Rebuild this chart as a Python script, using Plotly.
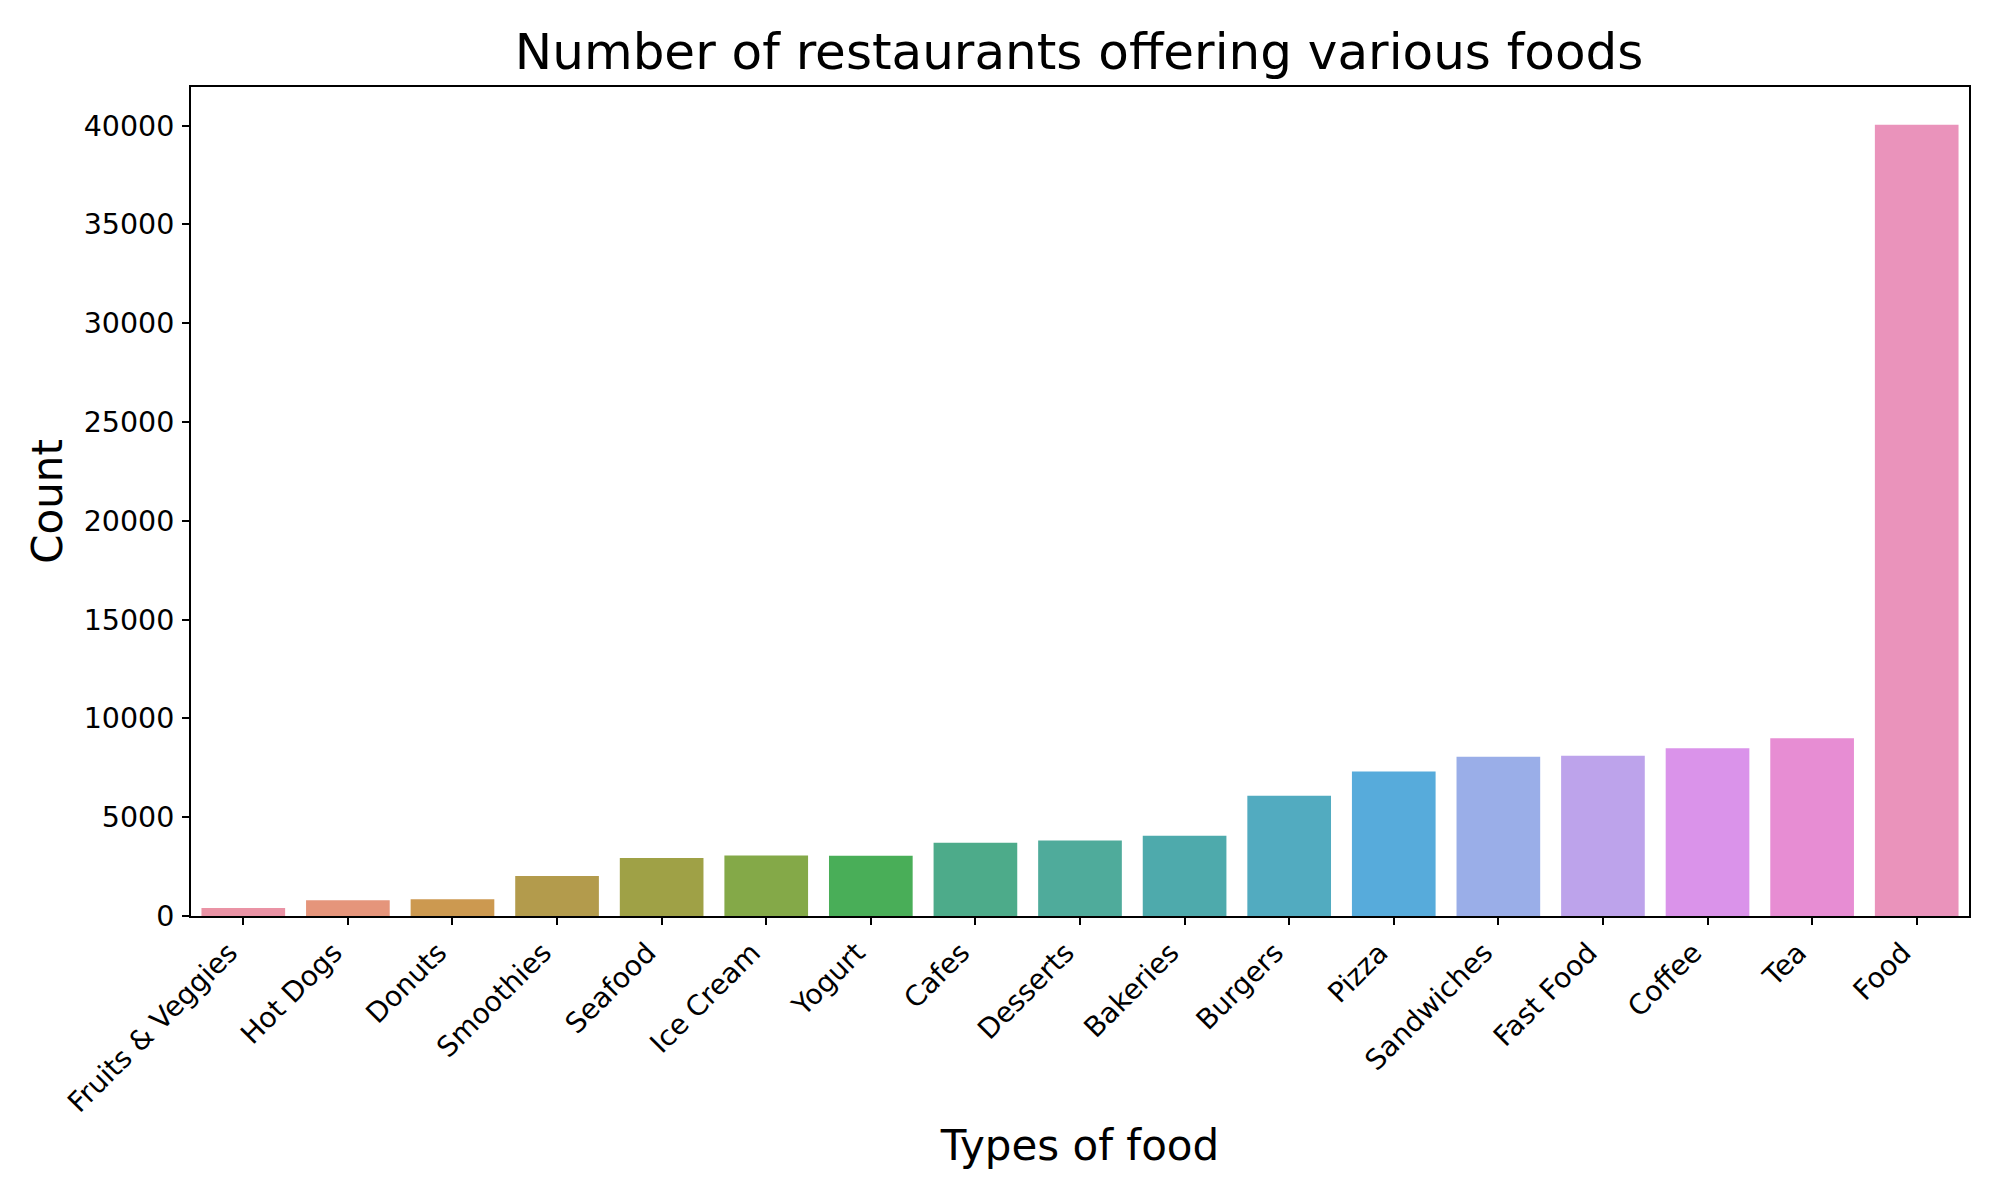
import plotly.graph_objects as go

categories = ["Fruits & Veggies", "Hot Dogs", "Donuts", "Smoothies", "Seafood", "Ice Cream", "Yogurt",
              "Cafes", "Desserts", "Bakeries", "Burgers", "Pizza", "Sandwiches", "Fast Food", "Coffee", "Tea", "Food"]
counts = [404, 793, 842, 2030, 2940, 3060, 3050, 3710, 3820, 4060, 6090, 7310, 8060, 8110, 8490, 8990, 40040]
colors = ["#ea93a5", "#e5957b", "#cc9950", "#b39b4c", "#9fa146", "#84a948", "#49ae58", "#4dab8a", "#4fab9b",
          "#4eaaac", "#52abc0", "#57abdb", "#9aaee8", "#bda3eb", "#da93ea", "#e78dd3", "#ea93bb"]
y_ticks = [0, 5000, 10000, 15000, 20000, 25000, 30000, 35000, 40000]

fig = go.Figure(go.Bar(x=categories, y=counts, marker=dict(color=colors, line_width=0), width=0.8))
fig.update_layout(
    width=1992, height=1192, plot_bgcolor="white", paper_bgcolor="white", showlegend=False,
    margin=dict(l=182.5, r=30.5, t=79, b=284, autoexpand=False),
    font=dict(family="DejaVu Sans", color="black"),
    title=dict(text="Number of restaurants offering various foods", font=dict(size=50),
               x=0.5377, xanchor="center", y=0.9635, yanchor="middle"),
)
fig.update_xaxes(title=dict(text="Types of food", font=dict(size=42), standoff=13),
                 range=[-0.5, 16.5], tickangle=-45, tickfont=dict(size=28), ticklabelshift=-14, ticks="outside", ticklen=7, tickwidth=1.6,
                 tickcolor="black", showline=True, linecolor="black", linewidth=2, mirror=True, showgrid=False, zeroline=False)
fig.update_yaxes(title=dict(text="Count", font=dict(size=42), standoff=8),
                 range=[0, 41950], tickvals=y_ticks, ticktext=[str(v) for v in y_ticks], tickfont=dict(size=28.5), ticklabelstandoff=2,
                 ticks="outside", ticklen=7, tickwidth=1.6, tickcolor="black", showline=True, linecolor="black",
                 linewidth=2, mirror=True, showgrid=False, zeroline=False)
fig.write_html("out.html")
